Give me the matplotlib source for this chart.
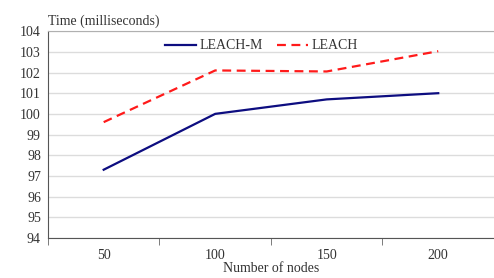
import matplotlib.pyplot as plt
import numpy as np

# data
nodes = ['50', '100', '150', '200']
leach_m = [97.3, 100.0, 100.7, 101.0]
leach = [99.6, 102.1, 102.05, 103.03]
y_ticks = list(range(94, 105))

plt.rcParams['font.family'] = ['Liberation Serif', 'DejaVu Serif']

fig = plt.figure(figsize=(4.94, 2.78), dpi=100)
ax = fig.add_axes([0.097, 0.144, 0.903, 0.744])

x = np.arange(len(nodes))
ax.plot(x, leach_m, color='#0d0d80', lw=1.6, label='LEACH-M')
ax.plot(x, leach, color='#ff1a1a', lw=1.6, ls=(0, (4, 2.5)), label='LEACH')

ax.set_ylim(94, 104)
ax.set_yticks(y_ticks)
ax.set_xlim(-0.5, 3.43)
ax.set_xticks(x)
ax.set_xticklabels(nodes)
ax.set_xticks(np.arange(-0.5, 4, 1), minor=True)
ax.tick_params(axis='x', which='major', length=0, labelsize=10, pad=8, colors='#333333')
ax.tick_params(axis='x', which='minor', length=5, color='#666666')
ax.tick_params(axis='y', length=0, labelsize=10, pad=5, colors='#333333')

ax.grid(axis='y', color='#dcdcdc', lw=1)
ax.set_axisbelow(True)
ax.spines['right'].set_visible(False)
ax.spines['top'].set_color('#b0b0b0')
ax.spines['left'].set_color('#555555')
ax.spines['bottom'].set_color('#555555')

ax.text(0.0, 1.015, 'Time (milliseconds)', transform=ax.transAxes,
        fontsize=10, color='#333333', va='bottom', ha='left')
ax.set_xlabel('Number of nodes', fontsize=10, color='#333333', labelpad=0)

leg = ax.legend(loc='upper left', bbox_to_anchor=(0.235, 1.02), ncol=2, frameon=False,
                fontsize=10, handlelength=2.2, handletextpad=0.3, columnspacing=1.0)
for t in leg.get_texts():
    t.set_color('#333333')

fig.savefig('out.png', dpi=100)
